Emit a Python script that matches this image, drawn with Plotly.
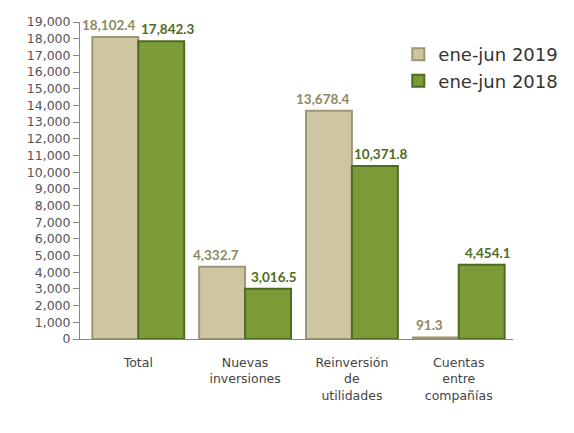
import plotly.graph_objects as go

categories = ["Total", "Nuevas<br>inversiones", "Reinversión<br>de<br>utilidades", "Cuentas<br>entre<br>compañías"]
series_names = ["ene-jun 2019", "ene-jun 2018"]
values_2019 = [18102.4, 4332.7, 13678.4, 91.3]
values_2018 = [17842.3, 3016.5, 10371.8, 4454.1]
y_ticks = list(range(0, 19001, 1000))

FONT = "'DejaVu Sans', sans-serif"
LABEL_FONT = "Lato, 'DejaVu Sans', sans-serif"

W, H = 574, 433
ML, MR, MT, MB = 72, 69, 14, 102
BARGAP = 0.14

def fmt(v):
    return f"{v:,.1f}"

fig = go.Figure()
fig.add_trace(go.Bar(
    name=series_names[0], x=categories, y=values_2019,
    marker=dict(color="#CEC6A3", line=dict(color="#9C9677", width=2)),
))
fig.add_trace(go.Bar(
    name=series_names[1], x=categories, y=values_2018,
    marker=dict(color="#7B9B38", line=dict(color="#4E6B22", width=2)),
))

# value labels above each bar, placed at data coordinates
cat_px = (W - ML - MR) / len(categories)
bar_px = cat_px * (1 - BARGAP) / 2
label_colors = ["#8E8A5E", "#4F6A24"]
for i, vals in enumerate([values_2019, values_2018]):
    sign = -1 if i == 0 else 1
    for cat, v in zip(categories, vals):
        fig.add_annotation(
            x=cat, y=v, xref="x", yref="y", text=fmt(v), showarrow=False,
            yanchor="bottom", xanchor="center",
            xshift=sign * (bar_px / 2 + 6), yshift=2,
            font=dict(family=LABEL_FONT, size=13.5, color=label_colors[i], weight="bold"),
        )

fig.update_layout(
    width=W, height=H,
    margin=dict(l=ML, r=MR, t=MT, b=MB, autoexpand=False),
    paper_bgcolor="white", plot_bgcolor="white",
    barmode="group", bargap=BARGAP, bargroupgap=0.0,
    font=dict(family=FONT, size=13, color="#555555"),
    showlegend=True,
    legend=dict(xref="container", yref="container", x=0.68, y=0.935,
                xanchor="left", yanchor="top",
                font=dict(family=FONT, size=18, color="#333333"),
                bgcolor="rgba(0,0,0,0)", itemwidth=30, tracegroupgap=2),
    xaxis=dict(showline=True, linecolor="#888888", linewidth=1,
               ticks="", tickfont=dict(family=FONT, size=12.5, color="#444444"),
               ticklabelstandoff=12, showgrid=False),
    yaxis=dict(range=[0, 19000], tickvals=y_ticks,
               ticktext=[f"{v:,}" for v in y_ticks],
               showline=True, linecolor="#888888", linewidth=1,
               ticks="outside", ticklen=6, tickcolor="#888888",
               tickfont=dict(family=FONT, size=12.5, color="#555555"),
               showgrid=False, zeroline=False, automargin=False),
)

fig.write_html("out.html")
